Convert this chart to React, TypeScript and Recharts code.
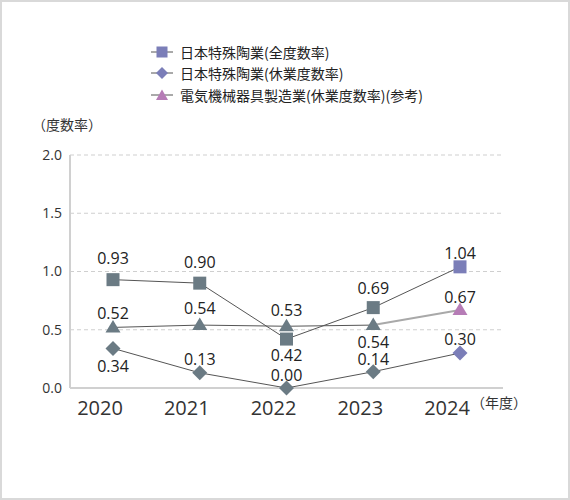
import React from 'react';
import { LineChart, Line, XAxis, YAxis, CartesianGrid, LabelList } from 'recharts';

const years = ['2020', '2021', '2022', '2023', '2024'];
const totalRate = [0.93, 0.90, 0.42, 0.69, 1.04];
const lostTimeRate = [0.34, 0.13, 0.00, 0.14, 0.30];
const electricalRate = [0.52, 0.54, 0.53, 0.54, 0.67];
const yTicks = [0, 0.5, 1.0, 1.5, 2.0];

const legendLabels = [
  '日本特殊陶業(全度数率)',
  '日本特殊陶業(休業度数率)',
  '電気機械器具製造業(休業度数率)(参考)',
];

// label vertical offsets per point (style config, px)
const totalLabelDy = [-21.5, -21.5, 16, -19.5, -13.5];
const lostLabelDy = [18, -14, -13.5, -13, -14];
const elecLabelDy = [-14.5, -17.5, -16, 17, -13];

const BASE = '#6b7b84';
const BLUE = '#7b7eb8';
const PINK = '#b67cb6';
const LINE = '#555';
const FONT = '"Noto Sans CJK JP", "Noto Sans", sans-serif';
const NUM_FONT = '"Open Sans", "Noto Sans", sans-serif';

const data = years.map((y, i) => ({
  year: y,
  total: totalRate[i],
  lost: lostTimeRate[i],
  elec: electricalRate[i],
  elecMain: i <= 3 ? electricalRate[i] : null,
  elecRef: i >= 3 ? electricalRate[i] : null,
}));

type Shape = 'square' | 'diamond' | 'triangle';

function marker(shape: Shape, cx: number, cy: number, color: string, key?: any) {
  if (shape === 'square') {
    return <rect key={key} x={cx - 6.5} y={cy - 6.5} width={13} height={13} fill={color} />;
  }
  if (shape === 'diamond') {
    const r = 7.5;
    return <polygon key={key} points={`${cx},${cy - r} ${cx + r},${cy} ${cx},${cy + r} ${cx - r},${cy}`} fill={color} />;
  }
  return <polygon key={key} points={`${cx},${cy - 7.5} ${cx + 7.5},${cy + 5} ${cx - 7.5},${cy + 5}`} fill={color} />;
}

const makeDot = (shape: Shape, hl: string) => (props: any) => {
  const { cx, cy, index } = props;
  if (cx == null || cy == null) return <g key={`d-${shape}-${index}`} />;
  return marker(shape, cx, cy, index === 4 ? hl : BASE, `d-${shape}-${index}`);
};

const makeLabel = (dys: number[], vals: number[]) => (props: any) => {
  const { x, y, index } = props;
  if (x == null || y == null) return null;
  return (
    <text x={x} y={y + dys[index]} textAnchor="middle" dominantBaseline="central" fontSize={16} fill="#222" fontFamily={NUM_FONT}>
      {vals[index].toFixed(2)}
    </text>
  );
};

function LegendIcon({ shape, color }: { shape: Shape; color: string }) {
  return (
    <svg width={22} height={14} style={{ display: 'block' }}>
      <line x1={0} y1={7} x2={22} y2={7} stroke={LINE} strokeWidth={1} />
      {shape === 'square' && <rect x={5.5} y={1.5} width={11} height={11} fill={color} />}
      {shape === 'diamond' && <polygon points="11,1 17,7 11,13 5,7" fill={color} />}
      {shape === 'triangle' && <polygon points="11,1.5 17,12 5,12" fill={color} />}
    </svg>
  );
}

export default function App() {
  const legend: { shape: Shape; color: string }[] = [
    { shape: 'square', color: BLUE },
    { shape: 'diamond', color: BLUE },
    { shape: 'triangle', color: PINK },
  ];
  return (
    <div
      style={{
        position: 'fixed',
        left: 0,
        top: 0,
        width: 570,
        height: 500,
        background: '#fff',
        fontFamily: FONT,
      }}
    >
      <div style={{ position: 'absolute', left: 0, top: 0, width: 570, height: 500 }}>
        <LineChart
          width={570}
          height={500}
          data={data}
          margin={{ top: 155, right: 67, bottom: 82, left: 30 }}
        >
          <CartesianGrid vertical={false} stroke="#cfcfcf" strokeDasharray="4 3" />
          <XAxis
            dataKey="year"
            scale="point"
            padding={{ left: 43, right: 43 }}
            axisLine={{ stroke: '#d0d0d0', strokeWidth: 2 }}
            tickLine={false}
            tickSize={0}
            tickMargin={13}
            height={30}
            tick={{ fontSize: 20, fill: '#333', fontFamily: NUM_FONT, dx: -13 }}
          />
          <YAxis
            domain={[0, 2]}
            ticks={yTicks}
            width={40}
            axisLine={{ stroke: '#d0d0d0', strokeWidth: 2 }}
            tickLine={false}
            tickSize={0}
            tickMargin={8}
            tickFormatter={(v: number) => v.toFixed(1)}
            tick={{ fontSize: 14, fill: '#333', fontFamily: NUM_FONT }}
          />
          <YAxis
            yAxisId="r"
            orientation="right"
            domain={[0, 2]}
            width={0}
            tick={false}
            tickLine={false}
            axisLine={{ stroke: '#d0d0d0', strokeWidth: 1 }}
          />
          <Line dataKey="elecRef" stroke="#a9a9a9" strokeWidth={2} dot={false} isAnimationActive={false} connectNulls={false} />
          <Line dataKey="elecMain" stroke={LINE} strokeWidth={1} dot={false} isAnimationActive={false} connectNulls={false} />
          <Line dataKey="lost" stroke={LINE} strokeWidth={1} dot={makeDot('diamond', BLUE)} isAnimationActive={false}>
            <LabelList dataKey="lost" content={makeLabel(lostLabelDy, lostTimeRate)} />
          </Line>
          <Line dataKey="elec" stroke="none" dot={makeDot('triangle', PINK)} isAnimationActive={false}>
            <LabelList dataKey="elec" content={makeLabel(elecLabelDy, electricalRate)} />
          </Line>
          <Line dataKey="total" stroke={LINE} strokeWidth={1} dot={makeDot('square', BLUE)} isAnimationActive={false}>
            <LabelList dataKey="total" content={makeLabel(totalLabelDy, totalRate)} />
          </Line>
        </LineChart>
      </div>

      <div style={{ position: 'absolute', left: 151, top: 41 }}>
        {legend.map((l, i) => (
          <div key={i} style={{ display: 'flex', alignItems: 'center', height: 21.5 }}>
            <LegendIcon shape={l.shape} color={l.color} />
            <span style={{ marginLeft: 7, fontSize: 14, color: '#222', whiteSpace: 'nowrap' }}>{legendLabels[i]}</span>
          </div>
        ))}
      </div>

      <div style={{ position: 'absolute', left: 32, top: 114, fontSize: 14, color: '#333', whiteSpace: 'nowrap' }}>（度数率）</div>
      <div style={{ position: 'absolute', left: 471, top: 392, fontSize: 14, color: '#333', whiteSpace: 'nowrap' }}>（年度）</div>

      <div
        style={{
          position: 'absolute',
          left: 0,
          top: 0,
          width: 570,
          height: 500,
          boxSizing: 'border-box',
          border: '2px solid #d9d9d9',
          pointerEvents: 'none',
        }}
      />
    </div>
  );
}
